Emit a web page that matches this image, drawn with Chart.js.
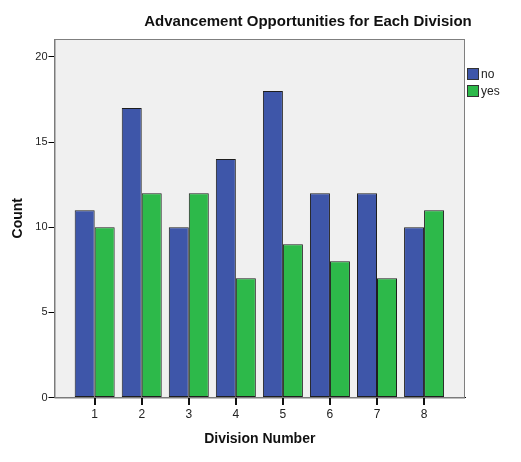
<!DOCTYPE html>
<html>
<head>
<meta charset="utf-8">
<script src="https://cdn.jsdelivr.net/npm/chart.js@4"></script>
<style>
  html, body { margin: 0; padding: 0; background: #fff; }
  #wrap { width: 521px; height: 462px; }
</style>
</head>
<body>
<div id="wrap"><canvas id="divChart"></canvas></div>
<script>
const chartTitle = 'Advancement Opportunities for Each Division';
const divisions = [1, 2, 3, 4, 5, 6, 7, 8];
const noCounts = [11, 17, 10, 14, 18, 12, 12, 10];
const yesCounts = [10, 12, 12, 7, 9, 8, 7, 11];
const yTicks = [0, 5, 10, 15, 20];

const font = 'Arial, "Liberation Sans", sans-serif';

// grey plot background + frame, SPSS style
const plotFrame = {
  id: 'plotFrame',
  beforeDatasetsDraw(chart) {
    const { ctx, chartArea: a } = chart;
    ctx.save();
    ctx.fillStyle = '#f0f0f0';
    ctx.fillRect(a.left, a.top, a.right - a.left, a.bottom - a.top);
    ctx.strokeStyle = '#7f7f7f';
    ctx.lineWidth = 1;
    ctx.strokeRect(a.left + 0.5, a.top + 0.5, a.right - a.left - 1, a.bottom - a.top);
    ctx.restore();
  },
  afterDraw(chart) {
    const { ctx, chartArea: a } = chart;
    const xs = chart.scales.x;
    ctx.save();
    // x tick marks under the axis (grid ticks didn't show up)
    ctx.fillStyle = '#111';
    divisions.forEach(v => {
      const px = Math.round(xs.getPixelForValue(v));
      ctx.fillRect(px - 1, Math.round(a.bottom), 2, 7);
    });

    ctx.fillStyle = '#111';
    ctx.font = 'bold 15px ' + font;
    ctx.textAlign = 'center';
    ctx.textBaseline = 'middle';
    ctx.fillText(chartTitle, 308, 22);

    // legend
    ctx.font = '12px ' + font;
    ctx.textAlign = 'left';
    chart.data.datasets.forEach((ds, i) => {
      const y = 68 + i * 17;
      ctx.fillStyle = ds.backgroundColor;
      ctx.fillRect(467, y, 12, 12);
      ctx.strokeStyle = '#333';
      ctx.lineWidth = 1;
      ctx.strokeRect(467.5, y + 0.5, 11, 11);
      ctx.fillStyle = '#222';
      ctx.fillText(ds.label, 481, y + 7);
    });
    ctx.restore();
  }
};

new Chart(document.getElementById('divChart'), {
  type: 'bar',
  data: {
    datasets: [
      {
        label: 'no',
        data: divisions.map((d, i) => ({ x: d, y: noCounts[i] })),
        backgroundColor: '#3e56a9',
        borderColor: '#1e1e1e',
        borderWidth: 1,
        borderSkipped: false,
      },
      {
        label: 'yes',
        data: divisions.map((d, i) => ({ x: d, y: yesCounts[i] })),
        backgroundColor: '#2db94a',
        borderColor: '#1e1e1e',
        borderWidth: 1,
        borderSkipped: false,
      },
    ],
  },
  options: {
    responsive: true,
    maintainAspectRatio: false,
    animation: false,
    devicePixelRatio: 1,
    categoryPercentage: 0.85,
    barPercentage: 1.0,
    layout: { padding: { top: 39, right: 56, left: 0, bottom: 0 } },
    plugins: {
      legend: { display: false },
      title: { display: false },
      tooltip: { enabled: false },
    },
    scales: {
      x: {
        type: 'linear',
        offset: false,
        min: 0.146,
        max: 8.87,
        afterBuildTicks: (s) => { s.ticks = divisions.map(v => ({ value: v })); },
        afterFit: (s) => { s.height = 64.5; },
        grid: { display: false },
        border: { display: true, color: '#000', width: 1 },
        ticks: { color: '#222', font: { family: font, size: 12 }, padding: 2 },
        title: {
          display: true,
          text: 'Division Number',
          color: '#111',
          font: { family: font, size: 14, weight: 'bold' },
          padding: { top: 0, bottom: 14 },
        },
      },
      y: {
        min: 0,
        max: 21.05,
        afterBuildTicks: (s) => { s.ticks = yTicks.map(v => ({ value: v })); },
        afterFit: (s) => { s.width = 54.5; },
        grid: { drawOnChartArea: false, drawTicks: true, tickLength: 6, color: '#000', tickColor: '#000' },
        border: { display: true, color: '#000', width: 1 },
        ticks: { color: '#222', font: { family: font, size: 11 }, padding: 1 },
        title: {
          display: true,
          text: 'Count',
          color: '#111',
          font: { family: font, size: 14, weight: 'bold' },
          padding: { top: 10, bottom: 0 },
        },
      },
    },
  },
  plugins: [plotFrame],
});
</script>
</body>
</html>
